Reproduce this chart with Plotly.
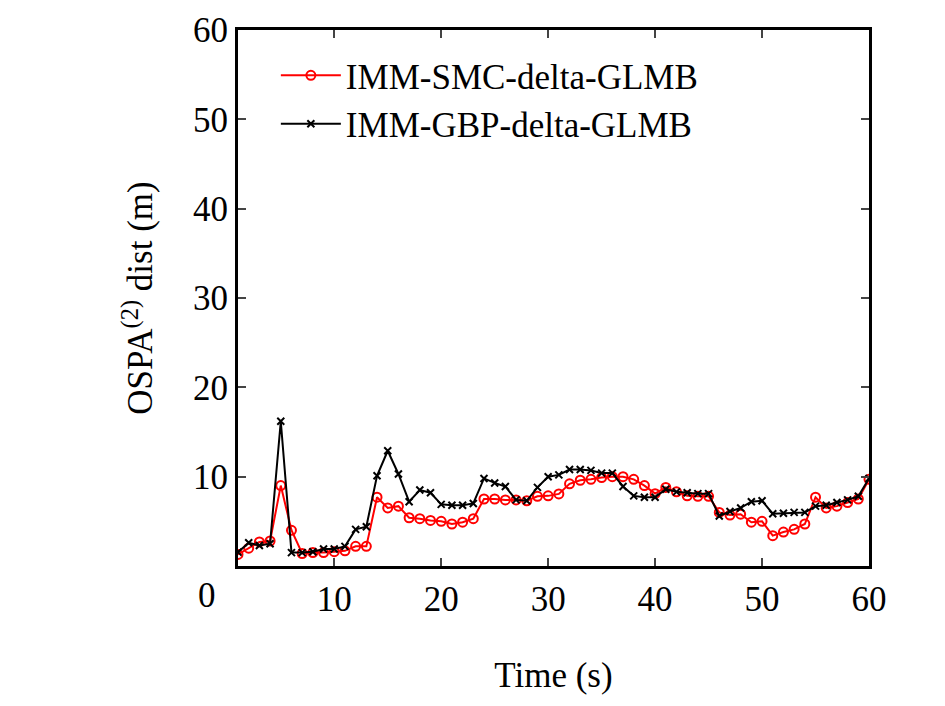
import plotly.graph_objects as go

t = list(range(1, 61))
smc = [1.3,2.0,2.7,2.8,9.0,4.0,1.4,1.5,1.5,1.6,1.7,2.2,2.2,7.7,6.5,6.7,5.4,5.3,5.1,5.0,4.7,4.9,5.3,7.5,7.5,7.4,7.4,7.3,7.8,7.85,
       8.07,9.2,9.6,9.7,9.9,10.0,10.0,9.7,9.0,8.1,8.8,8.3,7.85,7.8,7.8,6.0,5.7,5.8,4.9,5.0,3.4,3.8,4.1,4.7,7.7,6.5,6.7,7.1,7.5,9.7]
gbp = [1.55,2.6,2.3,2.5,16.2,1.5,1.5,1.6,1.9,1.9,2.2,4.1,4.4,10.1,12.9,10.3,7.2,8.5,8.2,6.9,6.8,6.8,7.0,9.8,9.3,8.9,7.4,7.3,8.8,10.0,
       10.2,10.8,10.8,10.7,10.4,10.4,8.9,7.85,7.7,7.7,8.6,8.3,8.2,8.1,8.1,5.6,6.1,6.5,7.2,7.3,5.85,5.9,6.0,6.0,6.7,6.8,7.1,7.4,7.8,9.8]
xticks = [10, 20, 30, 40, 50, 60]
yticks = [10, 20, 30, 40, 50, 60]

font = dict(family="Liberation Serif", size=35, color="black")
fig = go.Figure()
fig.add_trace(go.Scatter(x=t, y=smc, mode="lines+markers", name="IMM-SMC-delta-GLMB",
                         line=dict(color="#ff0000", width=2),
                         marker=dict(symbol="circle-open", size=9, color="#ff0000", line=dict(width=2))))
fig.add_trace(go.Scatter(x=t, y=gbp, mode="lines+markers", name="IMM-GBP-delta-GLMB",
                         line=dict(color="black", width=2),
                         marker=dict(symbol="x-thin-open", size=7, color="black", line=dict(width=2))))
ax = dict(showline=True, linecolor="black", linewidth=3, mirror="ticks", ticks="inside",
          ticklen=8, tickwidth=2, showgrid=False, zeroline=False, tickfont=font)
fig.update_layout(
    width=945, height=706, template="none", font=font,
    margin=dict(l=230, r=84, t=22, b=148),
    plot_bgcolor="white", paper_bgcolor="white",
    xaxis=dict(ax, range=[1, 60], tickvals=xticks,
               title=dict(text="Time (s)", font=font, standoff=45)),
    yaxis=dict(ax, range=[0, 60], tickvals=yticks,
               title=dict(text="OSPA<sup>(2)</sup> dist (m)", font=font, standoff=30)),
    legend=dict(x=0.06, y=0.97, xanchor="left", yanchor="top", bgcolor="rgba(0,0,0,0)",
                font=font, itemwidth=60, tracegroupgap=12),
    showlegend=True,
)
fig.add_annotation(text="0", xref="paper", yref="paper", x=-0.067, y=-0.095,
                   showarrow=False, font=font)
fig.write_html("out.html")
